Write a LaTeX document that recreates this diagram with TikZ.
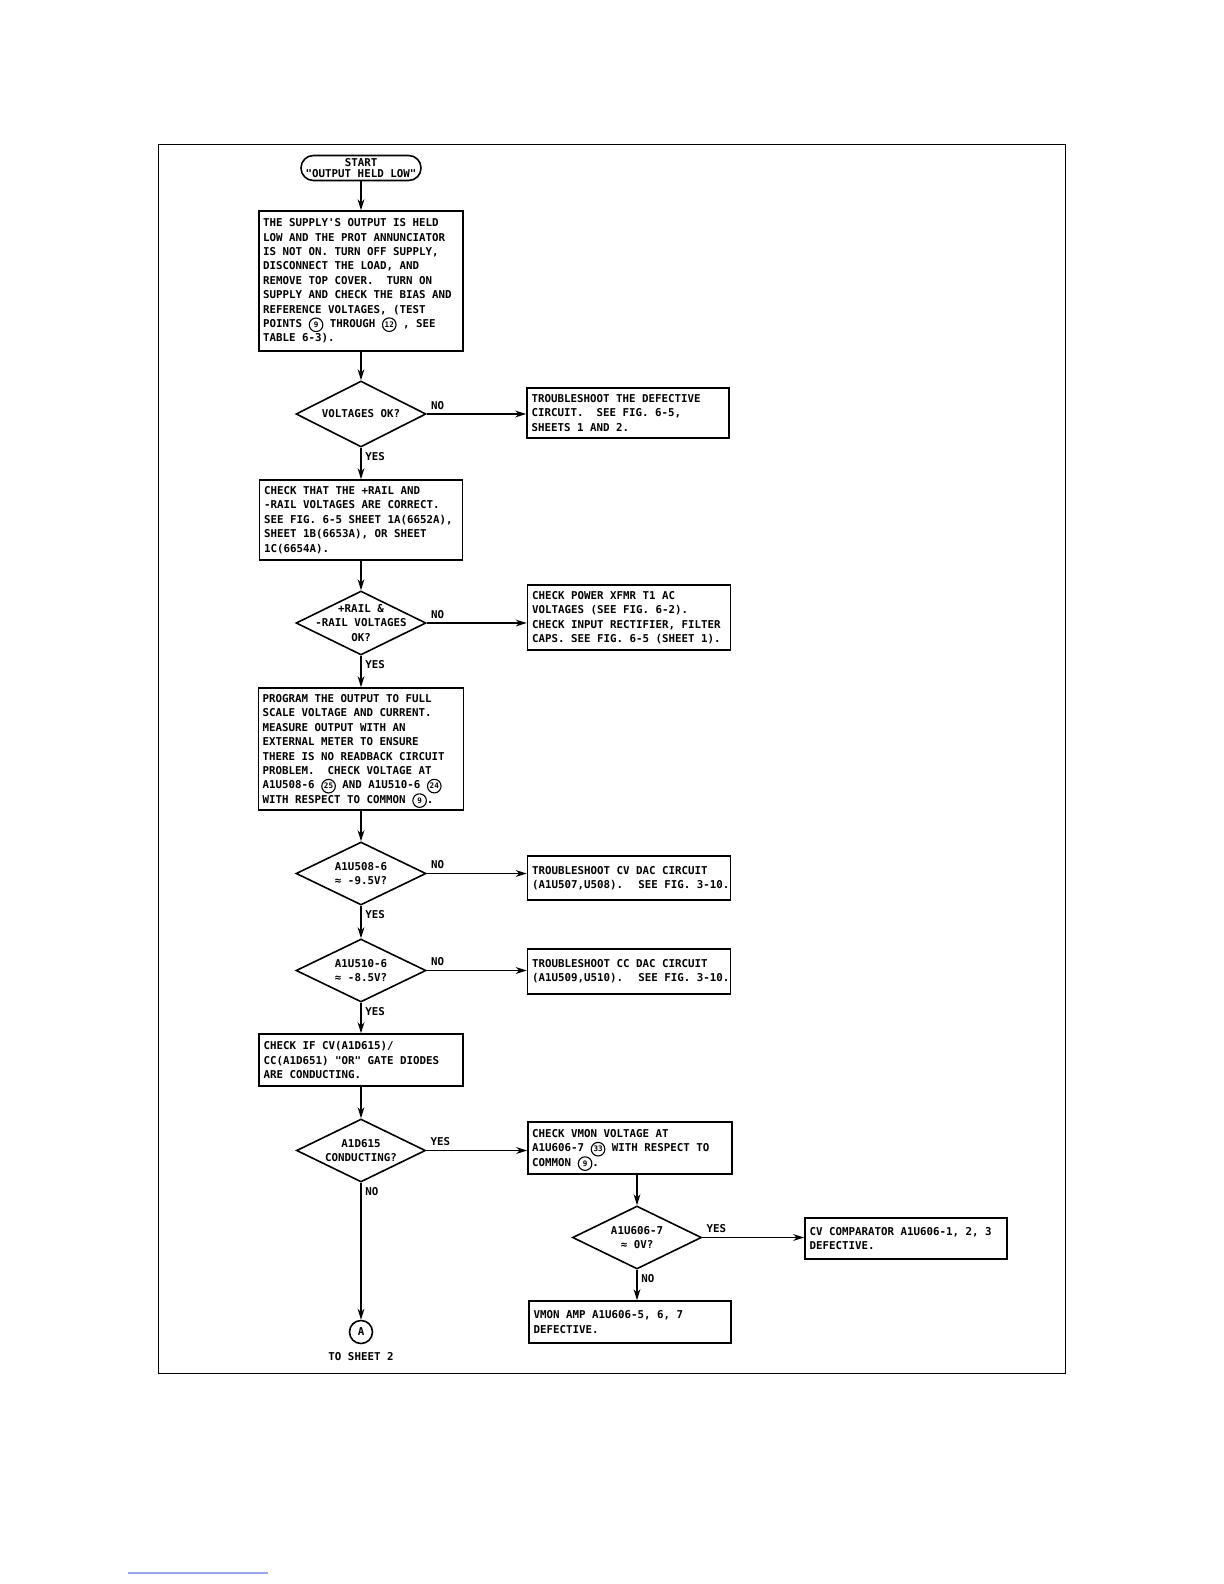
\documentclass[tikz,border=0pt]{standalone}
\usepackage{fontspec}
\newfontfamily\plotfont{DejaVu Sans Mono}
\usetikzlibrary{arrows.meta,shapes.geometric,positioning,calc}
\definecolor{linkblue}{RGB}{150,170,235}

% circled test point number
\newcommand{\tpnum}[1]{\smash{\tikz[baseline=(tp.base)]\node[draw,circle,inner sep=0pt,
  minimum size=6.8pt,line width=0.55pt,font=\plotfont\bfseries\fontsize{3.8}{3.8}\selectfont] (tp) {#1};}}

\begin{document}
\begin{tikzpicture}[
  x=0.5pt,y=-0.5pt,
  >={Stealth[length=5.5pt,width=3.4pt]},
  line width=0.8pt,
  txt/.style={font=\plotfont\bfseries\fontsize{5.4}{7.2}\selectfont},
  ptext/.style={txt,align=left,inner sep=0pt},
  dtext/.style={txt,align=center,inner sep=0pt},
  lbl/.style={txt,inner sep=1.8pt},
  pbox/.style 2 args={draw,minimum width=#1,minimum height=#2,inner sep=0pt},
  dia/.style 2 args={draw,diamond,minimum width=#1,minimum height=#2,inner sep=0pt},
  term/.style={draw,rounded corners=6.2pt,minimum width=60pt,minimum height=12.5pt,
               inner sep=0pt,txt,align=center,font=\plotfont\bfseries\fontsize{5.4}{5.2}\selectfont},
]
\useasboundingbox (0,0) rectangle (1224,1584);

%% ── frame ────────────────────────────────────────────────────────────────────
\draw (158.5,144.5) rectangle (1065.5,1373.5);

%% ── start ────────────────────────────────────────────────────────────────────
\node[term] (start) at (361,168) {START\\"OUTPUT HELD LOW"};

\node[pbox={102pt}{70pt}] (b1) at (361,281) {};
\node[ptext,right=2.3pt of b1.west] (b1t) {THE SUPPLY'S OUTPUT IS HELD\\
LOW AND THE PROT ANNUNCIATOR\\
IS NOT ON. TURN OFF SUPPLY,\\
DISCONNECT THE LOAD, AND\\
REMOVE TOP COVER.~ TURN ON\\
SUPPLY AND CHECK THE BIAS AND\\
REFERENCE VOLTAGES, (TEST\\
POINTS \tpnum{9} THROUGH \tpnum{12} , SEE\\
TABLE 6-3).};

%% ── voltages ok ──────────────────────────────────────────────────────────────
\node[dia={65pt}{33pt}] (d1) at (361,414) {};
\node[dtext] (d1t) at (d1) {VOLTAGES OK?};

\node[pbox={101pt}{25pt}] (t1) at (628,413) {};
\node[ptext,right=2.3pt of t1.west] (t1t) {TROUBLESHOOT THE DEFECTIVE\\
CIRCUIT.~ SEE FIG. 6-5,\\
SHEETS 1 AND 2.};

%% ── rail voltages ────────────────────────────────────────────────────────────
\node[pbox={101.5pt}{40pt}] (b2) at (361,520) {};
\node[ptext,right=2.3pt of b2.west] (b2t) {CHECK THAT THE +RAIL AND\\
-RAIL VOLTAGES ARE CORRECT.\\
SEE FIG. 6-5 SHEET 1A(6652A),\\
SHEET 1B(6653A), OR SHEET\\
1C(6654A).};

\node[dia={65pt}{32pt}] (d2) at (361,623) {};
\node[dtext] (d2t) at (d2) {+RAIL \&\\-RAIL VOLTAGES\\OK?};

\node[pbox={101.5pt}{32.5pt}] (t2) at (629,617.5) {};
\node[ptext,right=2.3pt of t2.west] (t2t) {CHECK POWER XFMR T1 AC\\
VOLTAGES (SEE FIG. 6-2).\\
CHECK INPUT RECTIFIER, FILTER\\
CAPS. SEE FIG. 6-5 (SHEET 1).};

%% ── program output ───────────────────────────────────────────────────────────
\node[pbox={102.5pt}{61pt}] (b3) at (361,749) {};
\node[ptext,right=2.3pt of b3.west] (b3t) {PROGRAM THE OUTPUT TO FULL\\
SCALE VOLTAGE AND CURRENT.\\
MEASURE OUTPUT WITH AN\\
EXTERNAL METER TO ENSURE\\
THERE IS NO READBACK CIRCUIT\\
PROBLEM.~ CHECK VOLTAGE AT\\
A1U508-6 \tpnum{25} AND A1U510-6 \tpnum{24}\\
WITH RESPECT TO COMMON \tpnum{9}.};

%% ── DAC outputs ──────────────────────────────────────────────────────────────
\node[dia={65pt}{31.5pt}] (d3) at (361,873.5) {};
\node[dtext] (d3t) at (d3) {A1U508-6\\≈ -9.5V?};

\node[pbox={101.5pt}{22pt}] (t3) at (629,878) {};
\node[ptext,right=2.3pt of t3.west] (t3t) {TROUBLESHOOT CV DAC CIRCUIT\\
(A1U507,U508).~ SEE FIG. 3-10.};

\node[dia={65pt}{31.5pt}] (d4) at (361,970.5) {};
\node[dtext] (d4t) at (d4) {A1U510-6\\≈ -8.5V?};

\node[pbox={101.5pt}{22.5pt}] (t4) at (629,971.5) {};
\node[ptext,right=2.3pt of t4.west] (t4t) {TROUBLESHOOT CC DAC CIRCUIT\\
(A1U509,U510).~ SEE FIG. 3-10.};

%% ── OR gate diodes ───────────────────────────────────────────────────────────
\node[pbox={102pt}{26pt}] (b4) at (361,1060) {};
\node[ptext,right=2.3pt of b4.west] (b4t) {CHECK IF CV(A1D615)/\\
CC(A1D651) "OR" GATE DIODES\\
ARE CONDUCTING.};

\node[dia={64.5pt}{31.5pt}] (d5) at (361,1150.5) {};
\node[dtext] (d5t) at (d5) {A1D615\\CONDUCTING?};

\node[pbox={102pt}{25.8pt}] (t5) at (630,1148) {};
\node[ptext,right=2.3pt of t5.west] (t5t) {CHECK VMON VOLTAGE AT\\
A1U606-7 \tpnum{33} WITH RESPECT TO\\
COMMON \tpnum{9}.};

\node[dia={64.5pt}{31.5pt}] (d6) at (637,1237.5) {};
\node[dtext] (d6t) at (d6) {A1U606-7\\≈ 0V?};

\node[pbox={101pt}{20.5pt}] (t6) at (906,1238.5) {};
\node[ptext,right=2.3pt of t6.west] (t6t) {CV COMPARATOR A1U606-1, 2, 3\\
DEFECTIVE.};

\node[pbox={101pt}{21pt}] (t7) at (630,1322) {};
\node[ptext,right=2.3pt of t7.west] (t7t) {VMON AMP A1U606-5, 6, 7\\
DEFECTIVE.};

%% ── off-page connector ───────────────────────────────────────────────────────
\node[draw,circle,minimum size=11.5pt,inner sep=0pt,txt] (conA) at (361,1332) {A};
\node[txt,below=0.5pt of conA] (sheet) {TO SHEET 2};

%% ── connectors ───────────────────────────────────────────────────────────────
\draw[->] (start) -- (b1);
\draw[->] (b1) -- (d1);
\draw[->] (d1.east) -- (d1.east -| t1.west);
\draw[->] (d1) -- (b2);
\draw[->] (b2) -- (d2);
\draw[->] (d2.east) -- (d2.east -| t2.west);
\draw[->] (d2) -- (b3);
\draw[->] (b3) -- (d3);
\draw[->] (d3.east) -- (d3.east -| t3.west);
\draw[->] (d3) -- (d4);
\draw[->] (d4.east) -- (d4.east -| t4.west);
\draw[->] (d4) -- (b4);
\draw[->] (b4) -- (d5);
\draw[->] (d5.east) -- (d5.east -| t5.west);
\draw[->] (d5) -- (conA);
\draw[->] (d6.north |- t5.south) -- (d6.north);
\draw[->] (d6.east) -- (d6.east -| t6.west);
\draw[->] (d6.south) -- (d6.south |- t7.north);

%% ── branch labels ────────────────────────────────────────────────────────────
\node[lbl,anchor=south west] (n1) at (d1.east) {NO};
\node[lbl,anchor=north west] (y1) at (d1.south) {YES};
\node[lbl,anchor=south west] (n2) at (d2.east) {NO};
\node[lbl,anchor=north west] (y2) at (d2.south) {YES};
\node[lbl,anchor=south west] (n3) at (d3.east) {NO};
\node[lbl,anchor=north west] (y3) at (d3.south) {YES};
\node[lbl,anchor=south west] (n4) at (d4.east) {NO};
\node[lbl,anchor=north west] (y4) at (d4.south) {YES};
\node[lbl,anchor=south west] (y5) at (d5.east) {YES};
\node[lbl,anchor=north west] (n5) at (d5.south) {NO};
\node[lbl,anchor=south west] (y6) at (d6.east) {YES};
\node[lbl,anchor=north west] (n6) at (d6.south) {NO};

%% stray link underline below the page
\draw[linkblue,line width=0.6pt] (128,1573) -- (268,1573);

\end{tikzpicture}
\end{document}
